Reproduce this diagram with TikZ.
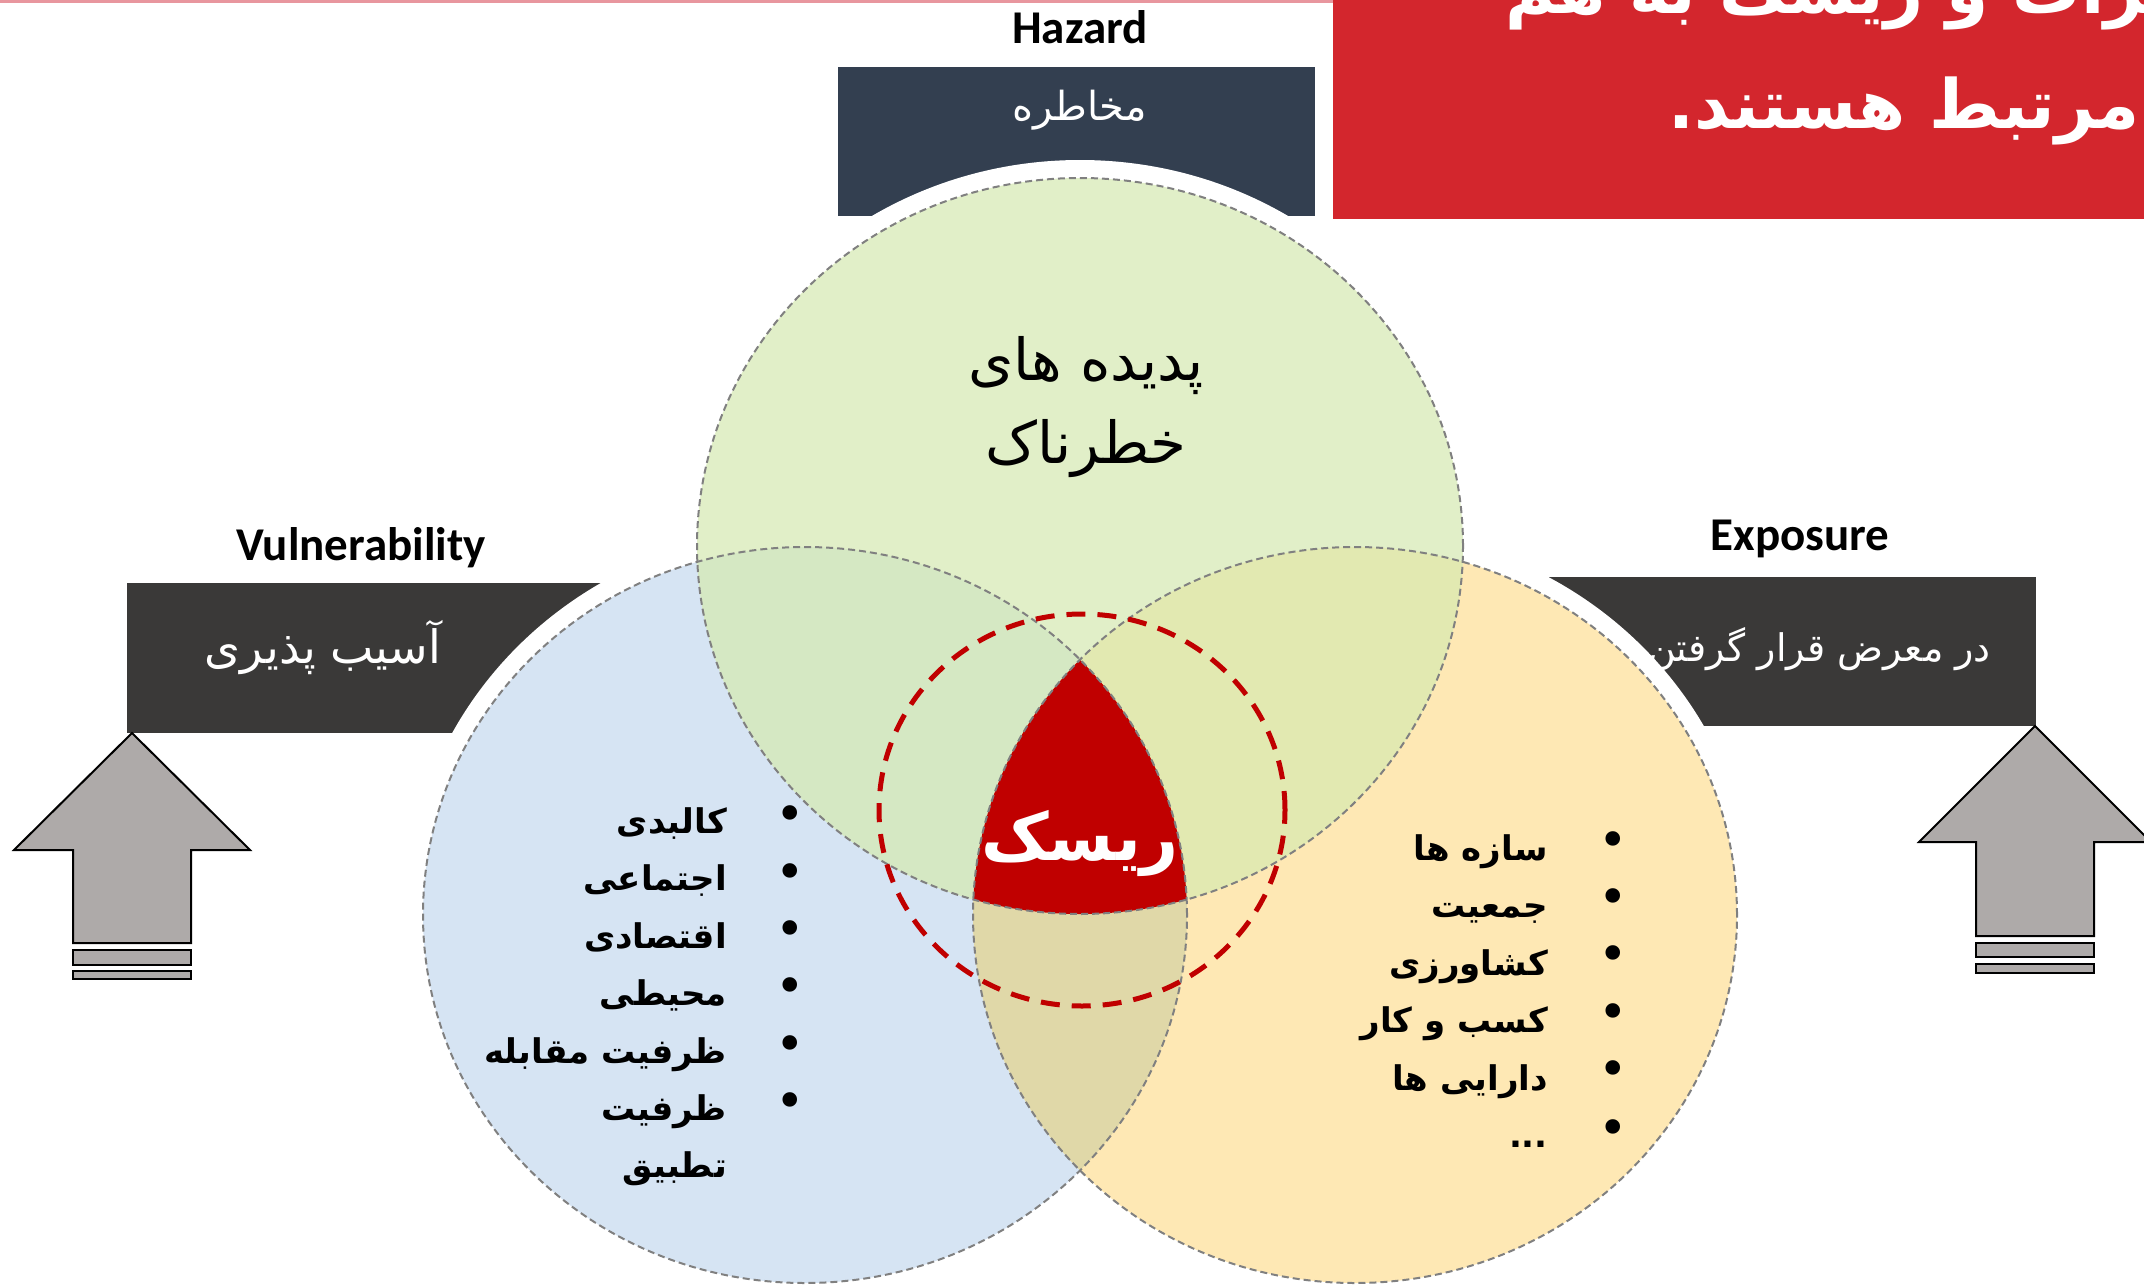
\documentclass[tikz,border=0pt]{standalone}
\usepackage{fontspec}
\setmainfont{Carlito}
\newfontfamily\arabicfont[Script=Arabic]{DejaVu Sans}
\TeXXeTstate=1
\newcommand{\fatxt}[1]{\beginR #1\endR}
\definecolor{pinkline}{RGB}{232,150,158}
\definecolor{titlered}{RGB}{211,38,45}
\definecolor{navybox}{RGB}{51,63,80}
\definecolor{darkbox}{RGB}{58,57,56}
\definecolor{arrowgray}{RGB}{174,170,169}
\definecolor{gfill}{RGB}{225,239,200}
\definecolor{bfill}{RGB}{214,228,243}
\definecolor{yfill}{RGB}{254,232,180}
\definecolor{gbfill}{RGB}{213,232,195}
\definecolor{gyfill}{RGB}{226,233,177}
\definecolor{byfill}{RGB}{224,216,168}
\definecolor{riskred}{RGB}{192,0,0}
\definecolor{ringgray}{RGB}{128,128,128}
\begin{document}
\begin{tikzpicture}[x=1pt,y=-1pt,
  engl/.style={font=\fontsize{47}{51}\selectfont\bfseries, inner sep=0pt, anchor=base},
  boxtxt/.style={text=white, inner sep=0pt, anchor=base},
  titletxt/.style={text=white, inner sep=0pt, font=\arabicfont\bfseries\fontsize{68}{72}\selectfont},
  listitem/.style={inner sep=0pt, anchor=base east, font=\arabicfont\bfseries\fontsize{34}{38}\selectfont},
  bul/.style={inner sep=0pt, anchor=center, font=\arabicfont\fontsize{50}{54}\selectfont},
  venn/.style={draw=ringgray, line width=2pt, dash pattern=on 7pt off 4pt},
  riskring/.style={draw=riskred, line width=5pt, dash pattern=on 19pt off 12pt},
  arrowshape/.style={fill=arrowgray, draw=black, line width=2pt, line join=miter},
  gshape/.style={x radius=383pt, y radius=368pt},
  sshape/.style={x radius=382pt, y radius=368pt},
  ghalo/.style={x radius=401pt, y radius=386pt},
  shalo/.style={x radius=400pt, y radius=386pt}
]
\useasboundingbox (0,0) rectangle (2144,1285);
\clip (0,0) rectangle (2144,1285);
\fill[white] (0,0) rectangle (2144,1285);

% centres
\coordinate (G) at (1080,546);
\coordinate (B) at (805,915);
\coordinate (Y) at (1355,915);
\coordinate (R) at (1082,810);

% top strip and title
\fill[pinkline] (0,0) rectangle (1333,3);
\fill[titlered] (1333,0) rectangle (2144,219);
\node[titletxt, anchor=base west] (title1) at (1505,13) {\fatxt{مخاطرات و ریسک به هم}};
\node[titletxt, anchor=base east] (title2) at (2140,128) {\fatxt{مرتبط هستند.}};

% hazard
\node[engl] (hazlbl) at (1080,43) {Hazard};
\fill[navybox] (838,67) rectangle (1315,216);
\node[boxtxt, font=\arabicfont\fontsize{40}{44}\selectfont] (hazfa) at (1080,120) {\fatxt{مخاطره}};

% vulnerability
\node[engl] (vullbl) at (361,560) {Vulnerability};
\fill[darkbox] (127,583) rectangle (700,733);
\node[boxtxt, font=\arabicfont\fontsize{46}{50}\selectfont] (vulfa) at (323,663) {\fatxt{آسیب پذیری}};

% exposure
\node[engl] (explbl) at (1800,550) {Exposure};
\fill[darkbox] (1450,577) rectangle (2036,726);
\node[boxtxt, anchor=base east, font=\arabicfont\fontsize{38}{42}\selectfont] (expfa) at (1991,661) {\fatxt{در معرض قرار گرفتن}};

% block arrows
\draw[arrowshape] (73,943) -- (73,850) -- (14,850) -- (132,733) -- (250,850) -- (191,850) -- (191,943) -- cycle;
\draw[arrowshape] (73,950) rectangle (191,965);
\draw[arrowshape] (73,971) rectangle (191,979);
\draw[arrowshape] (1976,936) -- (1976,842) -- (1919,842) -- (2035,726) -- (2151,842) -- (2094,842) -- (2094,936) -- cycle;
\draw[arrowshape] (1976,943) rectangle (2094,957);
\draw[arrowshape] (1976,964) rectangle (2094,973);

% white halos
\fill[white] (G) ellipse[ghalo];
\fill[white] (B) ellipse[shalo];
\fill[white] (Y) ellipse[shalo];

% fills
\fill[bfill] (B) ellipse[sshape];
\fill[yfill] (Y) ellipse[sshape];
\fill[gfill] (G) ellipse[gshape];
\begin{scope}
  \clip (B) ellipse[sshape];
  \fill[byfill] (Y) ellipse[sshape];
\end{scope}
\begin{scope}
  \clip (G) ellipse[gshape];
  \fill[gbfill] (B) ellipse[sshape];
  \fill[gyfill] (Y) ellipse[sshape];
  \clip (B) ellipse[sshape];
  \fill[riskred] (Y) ellipse[sshape];
\end{scope}

% outlines
\draw[venn] (B) ellipse[sshape];
\draw[venn] (Y) ellipse[sshape];
\draw[venn] (G) ellipse[gshape];
\draw[riskring] (R) ellipse[x radius=203pt, y radius=196pt];

% circle texts
\node[inner sep=0pt, anchor=base, font=\arabicfont\fontsize{58}{62}\selectfont] (haz1) at (1086,380) {\fatxt{پدیده های}};
\node[inner sep=0pt, anchor=base, font=\arabicfont\fontsize{58}{62}\selectfont] (haz2) at (1086,463) {\fatxt{خطرناک}};
\node[inner sep=0pt, anchor=base, text=white, font=\arabicfont\bfseries\fontsize{66}{70}\selectfont] (risk) at (1080,860) {\fatxt{ریسک}};

% left list
\node[listitem] (v1) at (727,833) {\fatxt{کالبدی}};
\node[listitem] (v2) at (727,890) {\fatxt{اجتماعی}};
\node[listitem] (v3) at (727,948) {\fatxt{اقتصادی}};
\node[listitem] (v4) at (727,1005) {\fatxt{محیطی}};
\node[listitem] (v5) at (727,1063) {\fatxt{ظرفیت مقابله}};
\node[listitem] (v6) at (727,1120) {\fatxt{ظرفیت}};
\node[listitem] (v7) at (727,1177) {\fatxt{تطبیق}};
\node[bul] (vb1) at (790,819) {•};
\node[bul] (vb2) at (790,877) {•};
\node[bul] (vb3) at (790,934) {•};
\node[bul] (vb4) at (790,991) {•};
\node[bul] (vb5) at (790,1049) {•};
\node[bul] (vb6) at (790,1106) {•};

% right list
\node[listitem] (e1) at (1548,860) {\fatxt{سازه ها}};
\node[listitem] (e2) at (1548,917) {\fatxt{جمعیت}};
\node[listitem] (e3) at (1548,975) {\fatxt{کشاورزی}};
\node[listitem] (e4) at (1548,1032) {\fatxt{کسب و کار}};
\node[listitem] (e5) at (1548,1090) {\fatxt{دارایی ها}};
\node[listitem] (e6) at (1548,1147) {...};
\node[bul] (eb1) at (1613,845) {•};
\node[bul] (eb2) at (1613,902) {•};
\node[bul] (eb3) at (1613,959) {•};
\node[bul] (eb4) at (1613,1017) {•};
\node[bul] (eb5) at (1613,1074) {•};
\node[bul] (eb6) at (1613,1133) {•};
\end{tikzpicture}
\end{document}
